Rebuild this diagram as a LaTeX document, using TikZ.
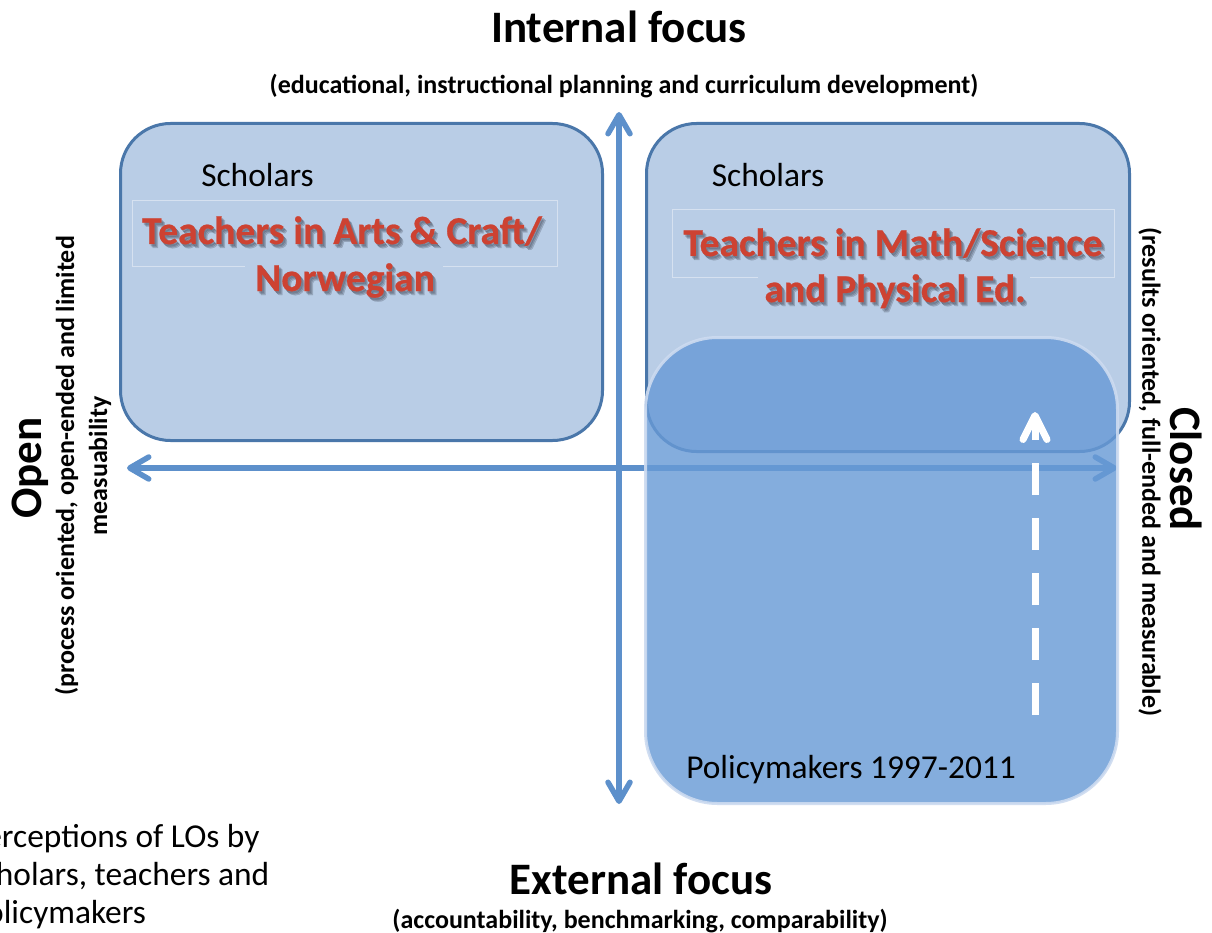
\documentclass[tikz,border=0pt]{standalone}
\usepackage{fontspec}
\setmainfont{Carlito}
\newfontfamily\redface[FakeBold=0.6]{Carlito Bold}
\usetikzlibrary{arrows.meta}

\definecolor{boxfill}{RGB}{185,205,230}
\definecolor{boxline}{RGB}{74,119,170}
\definecolor{axisblue}{RGB}{93,144,203}
\definecolor{policyfill}{RGB}{104,154,214}
\definecolor{policyline}{RGB}{205,219,240}
\definecolor{framegray}{RGB}{214,225,240}
\definecolor{wordred}{RGB}{205,66,50}
\definecolor{shade}{RGB}{55,62,78}

\tikzset{
  quadbox/.style={draw=boxline, fill=boxfill, line width=3pt, rounded corners=50pt, inner sep=0pt},
  policybox/.style={draw=policyline, draw opacity=0.9, fill=policyfill, fill opacity=0.81,
    line width=3pt, rounded corners=72pt, inner sep=0pt,
    minimum width=472pt, minimum height=466pt},
  axisarrow/.style={draw=axisblue, line width=5.5pt,
    {Straight Barb[length=19pt, width=22pt, round]}-{Straight Barb[length=19pt, width=22pt, round]}},
  trendarrow/.style={draw=white, line width=7pt, dash pattern=on 32pt off 23pt,
    -{Straight Barb[length=24pt, width=24pt, round]}},
  textframe/.style={draw=framegray, line width=1pt},
  heading/.style={font=\bfseries\fontsize{45}{50}\selectfont, inner sep=0pt},
  subheading/.style={font=\bfseries\fontsize{26}{33}\selectfont, inner sep=0pt, align=center},
  plain/.style={font=\fontsize{33.4}{38}\selectfont, inner sep=0pt},
  redword/.style={font=\redface\fontsize{39.5}{47}\selectfont, text=wordred, inner sep=0pt, anchor=base},
  redshadow/.style={redword, text=shade, text opacity=0.22},
}

% red caption line with a soft drop shadow underneath
\newcommand\shadowline[3]{%
  \foreach \dx/\dy in {1.5/2, 2.5/3, 3.5/4}
    \node[redshadow, xshift=\dx pt, yshift=-\dy pt] at (#2) {#3};
  \node[redword] (#1) at (#2) {#3};
}

\begin{document}
\begin{tikzpicture}[x=1pt, y=-1pt]
  \useasboundingbox (0,0) rectangle (1212,933);
  \fill[white] (0,0) rectangle (1212,933);
  \clip (0,0) rectangle (1212,933);

  % the two upper quadrants
  \node[quadbox, minimum width=482pt, minimum height=317pt] (scholL) at (361.5,282) {};
  \node[quadbox, minimum width=483pt, minimum height=328pt] (scholR) at (888,287.5) {};

  % thin frames around the teacher captions
  \draw[textframe] (245,267) -- (132,267) -- (132,201) -- (557,201) -- (557,267) -- (443,267);
  \draw[textframe] (758,277) -- (672,277) -- (672,210) -- (1114,210) -- (1114,277) -- (1030,277);

  \node[plain, anchor=base] (scholLtxt) at (257.5,187) {Scholars};
  \node[plain, anchor=base] (scholRtxt) at (768,187) {Scholars};

  \shadowline{artsA}{342,244}{Teachers in Arts \& Craft/}
  \shadowline{artsB}{345,291}{Norwegian}
  \shadowline{mathA}{893,256}{Teachers in Math/Science}
  \shadowline{mathB}{895,302}{and Physical Ed.}

  % axes
  \coordinate (vTop) at (619,112);
  \coordinate (vBot) at (619,804);
  \coordinate (hLeft) at (127,468);
  \coordinate (hRight) at (1117,468);
  \draw[axisarrow] (vBot) -- (vTop);
  \draw[axisarrow] (hRight) -- (hLeft);

  % policymakers region, laid over the axes
  \node[policybox] (policy) at (881.5,570.5) {};
  \node[plain, anchor=base] (policytxt) at (851,778) {Policymakers 1997-2011};

  % shift towards the closed end
  \coordinate (trendS) at (1035,715);
  \coordinate (trendE) at (1035,412);
  \draw[trendarrow] (trendS) -- (trendE);

  % axis labels
  \node[heading, anchor=base] (internal) at (619,43) {Internal focus};
  \node[subheading, anchor=base] (internalSub) at (624,94) {(educational, instructional planning and curriculum development)};
  \node[heading, anchor=base] (external) at (641,894) {External focus};
  \node[subheading, anchor=base] (externalSub) at (640,928) {(accountability, benchmarking, comparability)};

  \node[heading, rotate=90] (open) at (30,468) {Open};
  \node[subheading, rotate=90] (openSub) at (83,466) {(process oriented, open-ended and limited\\measuability};
  \node[heading, rotate=-90] (closed) at (1186,469) {Closed};
  \node[subheading, rotate=-90] (closedSub) at (1150,472) {(results oriented, full-ended and measurable)};

  % caption in the lower left corner
  \node[plain, anchor=base west] (cap1) at (-31.5,847) {Perceptions of LOs by};
  \node[plain, anchor=base west] (cap2) at (-31.5,885) {scholars, teachers and};
  \node[plain, anchor=base west] (cap3) at (-31.5,923) {policymakers};
\end{tikzpicture}
\end{document}
